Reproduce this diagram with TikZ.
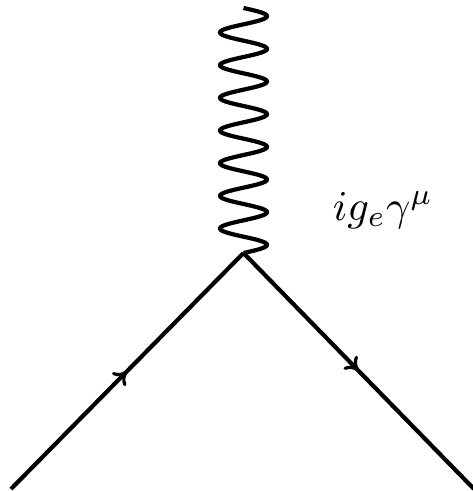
\documentclass[tikz,border=0pt]{standalone}
\usetikzlibrary{arrows.meta,decorations.markings}
\tikzset{
  fermion/.style={line width=4.2pt,
    postaction={decorate},
    decoration={markings, mark=at position 0.5 with {\arrow[line width=3.2pt]{To[length=13pt,width=19pt]}}}},
  photon/.style={line width=4.2pt, line join=round},
  lbl/.style={inner sep=0pt, scale=4.25}
}
\begin{document}
\begin{tikzpicture}[x=1pt,y=-1pt]
  \useasboundingbox (0,0) rectangle (473,491);
  \coordinate (v) at (243.5,253);
  \coordinate (a) at (11,489);
  \coordinate (b) at (474,489);
  \coordinate (top) at (243.5,8);
  \draw[fermion] (a) -- (v);
  \draw[fermion] (v) -- (b);
  \draw[photon] plot[domain=0:245, samples=500] ({243.5+23.5*sin(\x*11.0204)}, {8+\x});
  \node[lbl, anchor=base west] (g) at (332,220) {$ig_e\gamma^\mu$};
\end{tikzpicture}
\end{document}
